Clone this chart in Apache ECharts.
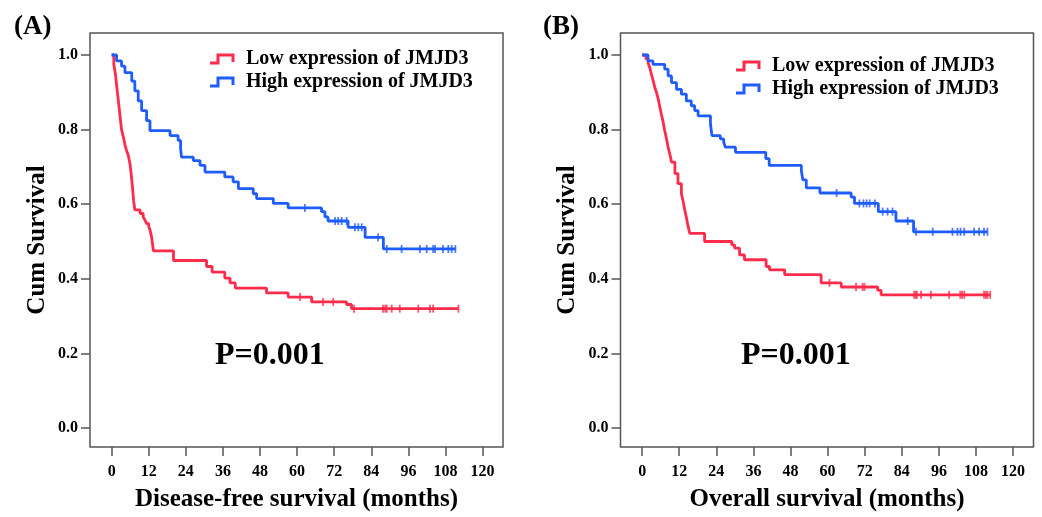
<!DOCTYPE html>
<html><head><meta charset="utf-8">
<script src="https://cdn.jsdelivr.net/npm/echarts@6/dist/echarts.min.js"></script>
<style>html,body{margin:0;padding:0;background:#fff}#c{width:1042px;height:517px}</style>
</head><body><div id="c"></div>
<script>
// ---- tick labels ----
const xTicks = [0, 12, 24, 36, 48, 60, 72, 84, 96, 108, 120];
const yTicks = [0, 0.2, 0.4, 0.6, 0.8, 1.0];
const legendNames = ['Low expression of JMJD3', 'High expression of JMJD3'];
const xTitles = ['Disease-free survival (months)', 'Overall survival (months)'];
const pTexts = ['P=0.001', 'P=0.001'];

// ---- (A) Disease-free survival: step times (months) and survival after step ----
const dfsLowT = [0, 0.7, 1.2, 1.6, 2.0, 2.4, 2.8, 3.2, 3.8, 4.3, 4.8, 5.4, 5.9, 6.2, 6.5, 6.8, 7.1, 7.5, 9.2, 10.2, 10.8, 11.3, 12.0, 12.4, 12.9, 13.2, 13.5, 20.0, 30.7, 32.5, 36.6, 38.3, 40.0, 50.1, 57.1, 64.7, 76.0, 77.6];
const dfsLowS = [1.0, 0.975, 0.95, 0.92, 0.89, 0.86, 0.83, 0.80, 0.78, 0.76, 0.745, 0.73, 0.71, 0.69, 0.665, 0.64, 0.61, 0.585, 0.575, 0.566, 0.557, 0.548, 0.54, 0.531, 0.513, 0.495, 0.475, 0.449, 0.433, 0.418, 0.402, 0.389, 0.375, 0.362, 0.351, 0.338, 0.331, 0.320];
const dfsLowCensor = [60.9, 68.4, 71.7, 78.4, 87.8, 88.5, 89.0, 90.6, 93.2, 99.2, 103.0, 104.0, 112.2];

const dfsHighT = [0, 1.6, 3.2, 4.3, 6.5, 7.5, 8.6, 9.7, 11.3, 12.4, 18.9, 21.5, 22.3, 22.6, 26.4, 28.6, 30.2, 36.6, 39.3, 41.0, 45.8, 46.9, 52.3, 57.1, 67.9, 69.0, 70.0, 76.5, 82.0, 87.9];
const dfsHighS = [1.0, 0.984, 0.97, 0.953, 0.93, 0.904, 0.877, 0.851, 0.824, 0.797, 0.784, 0.771, 0.75, 0.726, 0.717, 0.704, 0.686, 0.673, 0.66, 0.642, 0.628, 0.615, 0.602, 0.590, 0.58, 0.566, 0.555, 0.538, 0.511, 0.480];
const dfsHighCensor = [62.5, 72.3, 73.3, 74.4, 76.0, 78.7, 79.8, 80.9, 86.2, 89.0, 93.8, 99.7, 101.9, 104.0, 104.6, 107.2, 108.9, 110.0, 111.2];

// ---- (B) Overall survival ----
const osLowT = [0, 1.2, 1.9, 2.5, 3.0, 3.6, 4.1, 4.7, 5.2, 5.7, 6.2, 6.8, 7.3, 7.9, 8.4, 9.0, 9.5, 10.6, 11.6, 12.7, 13.3, 13.8, 14.4, 14.9, 15.4, 20.2, 29.0, 29.9, 31.5, 33.1, 40.1, 41.2, 46.1, 57.9, 64.4, 76.2, 77.3];
const osLowS = [1.0, 0.99, 0.98, 0.965, 0.948, 0.93, 0.913, 0.898, 0.882, 0.862, 0.842, 0.82, 0.797, 0.775, 0.753, 0.733, 0.713, 0.682, 0.655, 0.628, 0.606, 0.584, 0.561, 0.539, 0.522, 0.50, 0.491, 0.482, 0.464, 0.451, 0.433, 0.424, 0.411, 0.389, 0.378, 0.369, 0.357];
const osLowCensor = [60.6, 69.2, 71.3, 71.9, 88.0, 88.5, 88.9, 90.2, 93.4, 99.3, 102.9, 103.5, 104.2, 110.6, 111.2, 111.7, 112.6];

const osHighT = [0, 1.9, 3.5, 7.3, 8.4, 9.5, 11.1, 12.7, 14.3, 15.9, 17.0, 18.1, 22.1, 22.6, 25.3, 26.4, 26.9, 30.2, 40.0, 41.1, 51.5, 52.0, 53.1, 57.5, 67.6, 68.7, 76.4, 82.1, 87.8];
const osHighS = [1.0, 0.984, 0.975, 0.962, 0.944, 0.926, 0.908, 0.895, 0.877, 0.864, 0.851, 0.837, 0.815, 0.784, 0.775, 0.766, 0.753, 0.739, 0.722, 0.704, 0.69, 0.665, 0.644, 0.63, 0.619, 0.602, 0.58, 0.555, 0.526];
const osHighCensor = [62.9, 70.3, 71.6, 72.6, 73.6, 75.3, 77.8, 79.4, 81.0, 85.9, 88.6, 94.0, 100.4, 102.0, 103.0, 104.2, 107.4, 109.0, 110.6, 111.7];

const RED = '#FF2B4B', BLUE = '#1F5CFF';
const FONT = '"Liberation Serif", "Times New Roman", serif';

function stepValue(ts, ss, t) {
  let s = ss[0];
  for (let i = 0; i < ts.length; i++) if (ts[i] <= t) s = ss[i];
  return s;
}
function curve(ts, ss, cens) {
  const d = ts.map((t, i) => [t, ss[i]]);
  const end = Math.max.apply(null, cens);
  d.push([end, stepValue(ts, ss, end)]);
  return d;
}
function censorPts(ts, ss, cens) {
  return cens.map(t => [t, stepValue(ts, ss, t)]);
}

const grids = [
  { left: 90, top: 33, right: 539, bottom: 69, show: true, borderColor: '#555', borderWidth: 1.5, backgroundColor: 'transparent' },
  { left: 620.5, top: 33, right: 8.5, bottom: 69, show: true, borderColor: '#555', borderWidth: 1.5, backgroundColor: 'transparent' }
];

function xAxis(i) {
  return {
    type: 'value', gridIndex: i, min: -7, max: 126.6, position: 'bottom',
    name: xTitles[i], nameLocation: 'middle', nameGap: 40,
    nameTextStyle: { fontFamily: FONT, fontWeight: 'bold', fontSize: 25, color: '#000' },
    axisLine: { show: false, onZero: false },
    splitLine: { show: false },
    axisTick: { show: true, customValues: xTicks, length: 9, lineStyle: { color: '#555', width: 1.5 } },
    axisLabel: { customValues: xTicks, margin: 17, fontFamily: FONT, fontWeight: 'bold', fontSize: 16, color: '#000' }
  };
}
function yAxis(i) {
  return {
    type: 'value', gridIndex: i, min: -0.051, max: 1.059, position: 'left',
    name: 'Cum Survival', nameLocation: 'middle', nameGap: 40,
    nameTextStyle: { fontFamily: FONT, fontWeight: 'bold', fontSize: 25, color: '#000' },
    axisLine: { show: false, onZero: false },
    splitLine: { show: false },
    axisTick: { show: true, customValues: yTicks, length: 9, lineStyle: { color: '#555', width: 1.5 } },
    axisLabel: { customValues: yTicks, margin: 12, fontFamily: FONT, fontWeight: 'bold', fontSize: 16, color: '#000',
      formatter: v => v.toFixed(1) }
  };
}

function kmSeries(i, ts, ss, cens, color) {
  return [
    { type: 'line', xAxisIndex: i, yAxisIndex: i, step: 'end', showSymbol: false, silent: true,
      data: curve(ts, ss, cens), lineStyle: { color: color, width: 2.8 }, itemStyle: { color: color }, z: 3 },
    { type: 'scatter', xAxisIndex: i, yAxisIndex: i, symbol: 'rect', symbolSize: [1.8, 8], silent: true,
      data: censorPts(ts, ss, cens), itemStyle: { color: color }, z: 4 }
  ];
}

function legendGroup(x0, y0) {
  const items = [];
  [RED, BLUE].forEach((c, k) => {
    const y = y0 + k * 23;
    items.push({ type: 'polyline', shape: { points: [[x0, y + 8], [x0 + 8, y + 8], [x0 + 8, y], [x0 + 23, y], [x0 + 23, y + 7]] },
      style: { stroke: c, lineWidth: 3, fill: null } });
    items.push({ type: 'text', x: x0 + 36, y: y + 4, style: { text: legendNames[k], fontFamily: FONT, fontWeight: 'bold',
      fontSize: 20, fill: '#000', verticalAlign: 'middle', align: 'left' } });
  });
  return items;
}

const graphic = [
  { type: 'text', x: 14, y: 27, style: { text: '(A)', fontFamily: FONT, fontWeight: 'bold', fontSize: 27, fill: '#000', verticalAlign: 'middle' } },
  { type: 'text', x: 543, y: 27, style: { text: '(B)', fontFamily: FONT, fontWeight: 'bold', fontSize: 27, fill: '#000', verticalAlign: 'middle' } },
  { type: 'text', x: 215, y: 356, style: { text: pTexts[0], fontFamily: FONT, fontWeight: 'bold', fontSize: 32, fill: '#000', verticalAlign: 'middle' } },
  { type: 'text', x: 741, y: 356, style: { text: pTexts[1], fontFamily: FONT, fontWeight: 'bold', fontSize: 32, fill: '#000', verticalAlign: 'middle' } }
].concat(legendGroup(210, 55)).concat(legendGroup(736, 62));

const chart = echarts.init(document.getElementById('c'), null, { renderer: 'canvas' });
chart.setOption({
  animation: false,
  backgroundColor: '#fff',
  grid: grids,
  xAxis: [xAxis(0), xAxis(1)],
  yAxis: [yAxis(0), yAxis(1)],
  series: [].concat(
    kmSeries(0, dfsLowT, dfsLowS, dfsLowCensor, RED),
    kmSeries(0, dfsHighT, dfsHighS, dfsHighCensor, BLUE),
    kmSeries(1, osLowT, osLowS, osLowCensor, RED),
    kmSeries(1, osHighT, osHighS, osHighCensor, BLUE)
  ),
  graphic: graphic
});
</script>
</body></html>
